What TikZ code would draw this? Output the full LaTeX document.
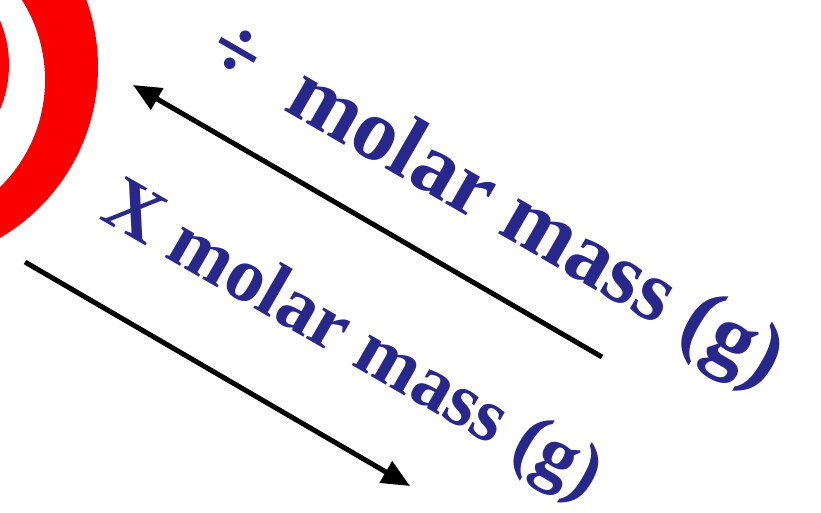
\documentclass[tikz,border=0pt]{standalone}
\usepackage{fontspec}
\setmainfont{Liberation Serif}
\usetikzlibrary{arrows.meta}
\definecolor{ink}{RGB}{40,40,140}
\definecolor{ring}{RGB}{250,0,0}
\tikzset{
  lbl/.style={text=ink,font=\bfseries\fontsize{#1}{#1}\selectfont,rotate=-30,anchor=base east,inner sep=0pt},
  arr/.style={-{Triangle[length=28pt,width=24pt]},line width=5pt,draw=black},
}
\begin{document}
\begin{tikzpicture}[x=1pt,y=-1pt]
  \useasboundingbox (0,0) rectangle (821,513);
  \fill[white] (0,0) rectangle (821,513);
  % target rings, cut by the left edge
  \begin{scope}
    \clip (0,0) rectangle (821,513);
    \fill[ring,even odd rule] (-100,67) circle[radius=198pt] (-105,80) circle[radius=150pt];
    \fill[ring] (-105,65) circle[radius=114pt];
  \end{scope}
  % labels
  \node[lbl=88] (divText) at (765,388) {÷\hspace{0.25em} molar mass (g)};
  \node[lbl=77] (timesText) at (586,500) {X molar mass (g)};
  % arrows
  \coordinate (upTail) at (602,357);
  \coordinate (upTip) at (133,85);
  \coordinate (downTail) at (25,262);
  \coordinate (downTip) at (410,486);
  \draw[arr] (upTail) -- (upTip);
  \draw[arr] (downTail) -- (downTip);
\end{tikzpicture}
\end{document}
